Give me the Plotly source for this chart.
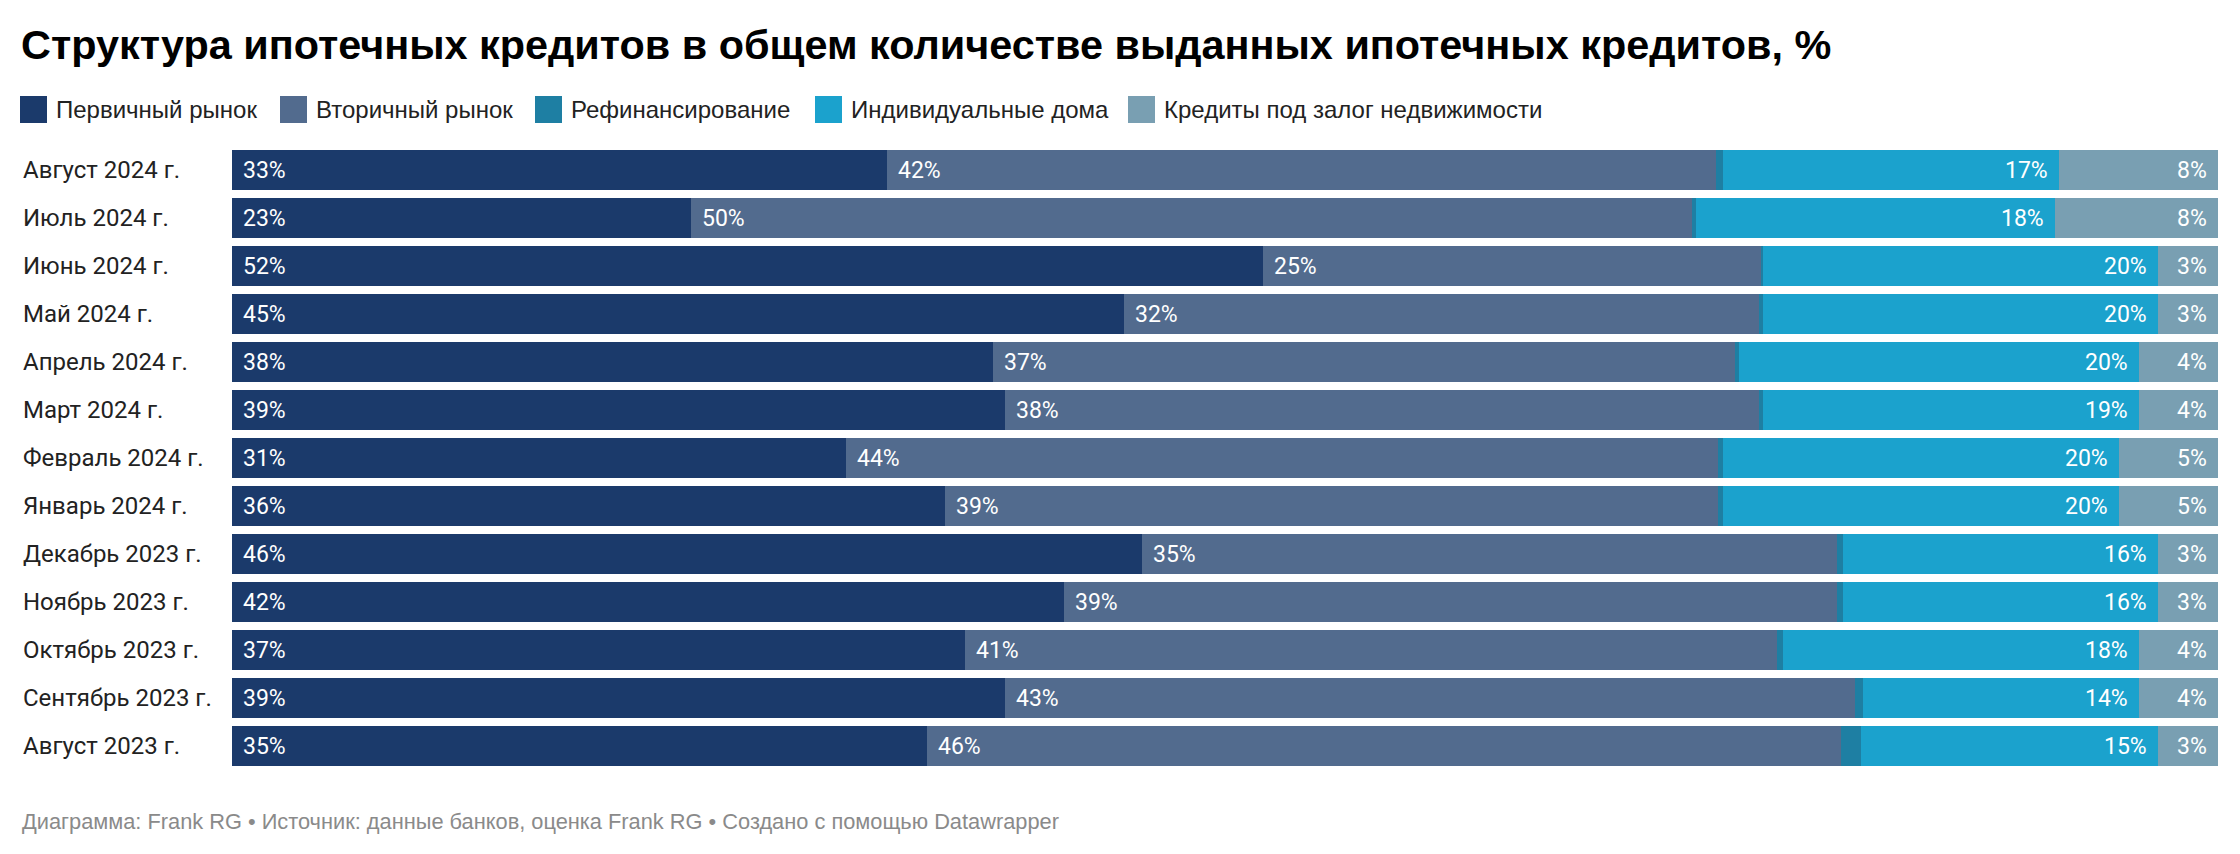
import plotly.graph_objects as go

months = ["Август 2024 г.", "Июль 2024 г.", "Июнь 2024 г.", "Май 2024 г.", "Апрель 2024 г.",
          "Март 2024 г.", "Февраль 2024 г.", "Январь 2024 г.", "Декабрь 2023 г.", "Ноябрь 2023 г.",
          "Октябрь 2023 г.", "Сентябрь 2023 г.", "Август 2023 г."]
primary = [33.0, 23.1, 51.9, 44.9, 38.3, 38.9, 30.9, 35.9, 45.8, 41.9, 36.9, 38.9, 35.0]
secondary = [41.7, 50.4, 25.1, 32.0, 37.4, 38.0, 43.9, 38.9, 35.0, 38.9, 40.9, 42.8, 46.0]
refinancing = [0.4, 0.2, 0.1, 0.2, 0.2, 0.2, 0.3, 0.3, 0.3, 0.3, 0.3, 0.4, 1.0]
individual = [16.9, 18.1, 19.9, 19.9, 20.1, 18.9, 19.9, 19.9, 15.9, 15.9, 17.9, 13.9, 15.0]
pledge = [8.0, 8.2, 3.0, 3.0, 4.0, 4.0, 5.0, 5.0, 3.0, 3.0, 4.0, 4.0, 3.0]

series_names = ["Первичный рынок", "Вторичный рынок", "Рефинансирование",
                "Индивидуальные дома", "Кредиты под залог недвижимости"]
colors = ["#1b3a6b", "#526b8e", "#1e7fa3", "#1ba2cd", "#799fb2"]
title_text = "Структура ипотечных кредитов в общем количестве выданных ипотечных кредитов, %"
footer_text = "Диаграмма: Frank RG • Источник: данные банков, оценка Frank RG • Создано с помощью Datawrapper"

W, H = 2240, 854
ML, MR, MT, MB = 232, 22, 146, 84
PW, PH = W - ML - MR, H - MT - MB


def px2x(px):
    return (px - ML) / PW


def py2y(py):
    return (H - MB - py) / PH


all_series = [primary, secondary, refinancing, individual, pledge]

fig = go.Figure()
for name, vals, col in zip(series_names, all_series, colors):
    fig.add_trace(go.Bar(
        y=months, x=vals, name=name, orientation="h",
        marker=dict(color=col, line=dict(width=0)),
        showlegend=False, hoverinfo="x+name",
    ))

LABEL_FONT = dict(family="Roboto", size=23, color="white")
annotations = []
for i, m in enumerate(months):
    p, s, r, ind, pl = primary[i], secondary[i], refinancing[i], individual[i], pledge[i]
    total = round(p + s + r + ind + pl, 4)
    annotations.append(dict(x=0, y=m, xref="x", yref="y", text=f"{round(p)}%",
                            xanchor="left", xshift=9, showarrow=False, font=LABEL_FONT))
    annotations.append(dict(x=p, y=m, xref="x", yref="y", text=f"{round(s)}%",
                            xanchor="left", xshift=9, showarrow=False, font=LABEL_FONT))
    annotations.append(dict(x=round(p + s + r + ind, 4), y=m, xref="x", yref="y", text=f"{round(ind)}%",
                            xanchor="right", xshift=-9, showarrow=False, font=LABEL_FONT))
    annotations.append(dict(x=total, y=m, xref="x", yref="y", text=f"{round(pl)}%",
                            xanchor="right", xshift=-9, showarrow=False, font=LABEL_FONT))
    # row label
    annotations.append(dict(x=px2x(21), y=m, xref="paper", yref="y", text=m,
                            xanchor="left", showarrow=False,
                            font=dict(family="Roboto", size=24, color="#222222")))

# title
annotations.append(dict(x=px2x(19), y=py2y(45), xref="paper", yref="paper", text=title_text,
                        xanchor="left", yanchor="middle", showarrow=False,
                        font=dict(family="Liberation Sans", size=41.4, color="#000000", weight="bold")))
# footer
annotations.append(dict(x=px2x(20), y=py2y(821), xref="paper", yref="paper", text=footer_text,
                        xanchor="left", yanchor="middle", showarrow=False,
                        font=dict(family="Liberation Sans", size=21.8, color="#8a8a8a")))

# legend (manual)
legend_sq_x = [20, 280, 535, 815, 1128]
shapes = []
for name, col, sx in zip(series_names, colors, legend_sq_x):
    shapes.append(dict(type="rect", xref="paper", yref="paper",
                       x0=px2x(sx), x1=px2x(sx + 27), y0=py2y(123), y1=py2y(96),
                       fillcolor=col, line=dict(width=0)))
    annotations.append(dict(x=px2x(sx + 34), y=py2y(109.5), xref="paper", yref="paper",
                            text=name, xanchor="left", yanchor="middle", showarrow=False,
                            font=dict(family="Liberation Sans", size=24, color="#222222")))

fig.update_layout(
    width=W, height=H,
    margin=dict(l=ML, r=MR, t=MT, b=MB),
    barmode="stack", bargap=8 / 48,
    plot_bgcolor="white", paper_bgcolor="white",
    xaxis=dict(range=[0, 100], visible=False, fixedrange=True),
    yaxis=dict(autorange="reversed", showticklabels=False, showgrid=False,
               zeroline=False, showline=False, ticks=""),
    annotations=annotations, shapes=shapes,
)

fig.write_html("out.html", config={"displayModeBar": False},
               post_script="document.body.style.margin='0';document.body.style.overflow='hidden';")
